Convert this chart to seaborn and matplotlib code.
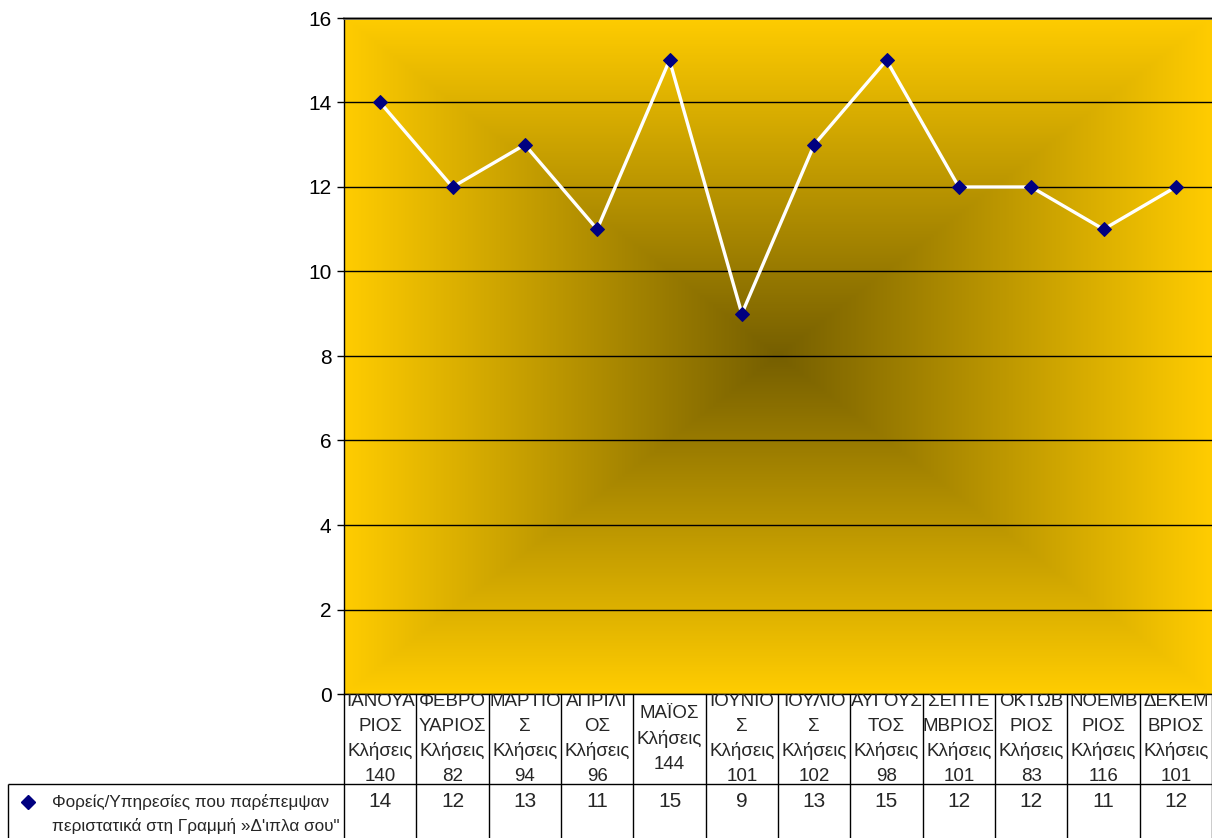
import numpy as np
import pandas as pd
import matplotlib
matplotlib.use('Agg')
import matplotlib.pyplot as plt
import seaborn as sns
from matplotlib.colors import LinearSegmentedColormap

# data
months = ['ΙΑΝΟΥΑ\nΡΙΟΣ', 'ΦΕΒΡΟ\nΥΑΡΙΟΣ', 'ΜΑΡΤΙΟ\nΣ', 'ΑΠΡΙΛΙ\nΟΣ', 'ΜΑΪΟΣ',
          'ΙΟΥΝΙΟ\nΣ', 'ΙΟΥΛΙΟ\nΣ', 'ΑΥΓΟΥΣ\nΤΟΣ', 'ΣΕΠΤΕ\nΜΒΡΙΟΣ', 'ΟΚΤΩΒ\nΡΙΟΣ',
          'ΝΟΕΜΒ\nΡΙΟΣ', 'ΔΕΚΕΜ\nΒΡΙΟΣ']
calls = [140, 82, 94, 96, 144, 101, 102, 98, 101, 83, 116, 101]
referrals = [14, 12, 13, 11, 15, 9, 13, 15, 12, 12, 11, 12]
series_name = 'Φορείς/Υπηρεσίες που παρέπεμψαν\nπεριστατικά στη Γραμμή »Δ\'ιπλα σου"'
y_ticks = [0, 2, 4, 6, 8, 10, 12, 14, 16]

W, H = 1212, 838
sns.set_style('white')
plt.rcParams['font.family'] = ['Liberation Sans', 'DejaVu Sans']

fig = plt.figure(figsize=(W / 100, H / 100), dpi=100)
ax = fig.add_axes([344 / W, 144 / H, 868 / W, 676 / H])

# gold "from centre" gradient background
gx, gy = np.meshgrid(np.linspace(-1, 1, 400), np.linspace(-1, 1, 300))
shade = np.maximum(np.abs(gx), np.abs(gy))
gold = LinearSegmentedColormap.from_list('gold', ['#765F00', '#FFCC00'])
ax.imshow(shade, cmap=gold, extent=(-0.5, 11.5, 0, 16), aspect='auto',
          interpolation='bilinear', zorder=0)

df = pd.DataFrame({'pos': np.arange(len(months)), 'value': referrals})
sns.lineplot(data=df, x='pos', y='value', ax=ax, color='white', lw=2.4,
             marker='D', markersize=7, markerfacecolor='#000080',
             markeredgecolor='#000080', sort=False, zorder=3)

ax.set_xlim(-0.5, 11.5)
ax.set_ylim(0, 16)
ax.set_yticks(y_ticks)
ax.set_xticks([])
ax.set_xlabel('')
ax.set_ylabel('')
ax.set_axisbelow(False)
ax.yaxis.grid(True, color='black', lw=1)
ax.tick_params(axis='y', left=True, direction='out', length=5, width=1,
               pad=4, labelsize=15, colors='black')
ax.spines['top'].set_color('#808080')
ax.spines['top'].set_linewidth(2)
ax.spines['right'].set_visible(False)
for s in ['left', 'bottom']:
    ax.spines[s].set_color('black')
    ax.spines[s].set_linewidth(1)

# data table: category row
ax_cat = fig.add_axes([344 / W, 54 / H, 868 / W, 90 / H])
ax_cat.set_xlim(-0.5, 11.5)
ax_cat.set_ylim(0, 1)
ax_cat.axis('off')
for i, (m, c) in enumerate(zip(months, calls)):
    ax_cat.text(i, 0.5, f'{m}\nΚλήσεις\n{c}', ha='center', va='center',
                fontsize=13.5, linespacing=1.56, clip_on=True)

# data table: values row
ax_val = fig.add_axes([344 / W, 0, 868 / W, 54 / H])
ax_val.set_xlim(-0.5, 11.5)
ax_val.set_ylim(0, 54)
ax_val.axis('off')
for i, v in enumerate(referrals):
    ax_val.text(i, 46, str(v), ha='center', va='top', fontsize=15)

# table grid lines in pixel space
ax_px = fig.add_axes([0, 0, 1, 1], zorder=5)
ax_px.set_xlim(0, W)
ax_px.set_ylim(H, 0)
ax_px.axis('off')
col_edges = 344 + np.arange(13) * 868 / 12
ax_px.vlines(col_edges, 694, H, color='black', lw=1)
ax_px.vlines(8, 784, H, color='black', lw=1)
ax_px.hlines(784, 8, W, color='black', lw=1)
ax_px.plot(28, 802, marker='D', ms=7, color='#000080')
ax_px.text(52, 794, series_name, ha='left', va='top', fontsize=12.3,
           linespacing=1.65, clip_on=False)

fig.savefig('out.png', dpi=100)
